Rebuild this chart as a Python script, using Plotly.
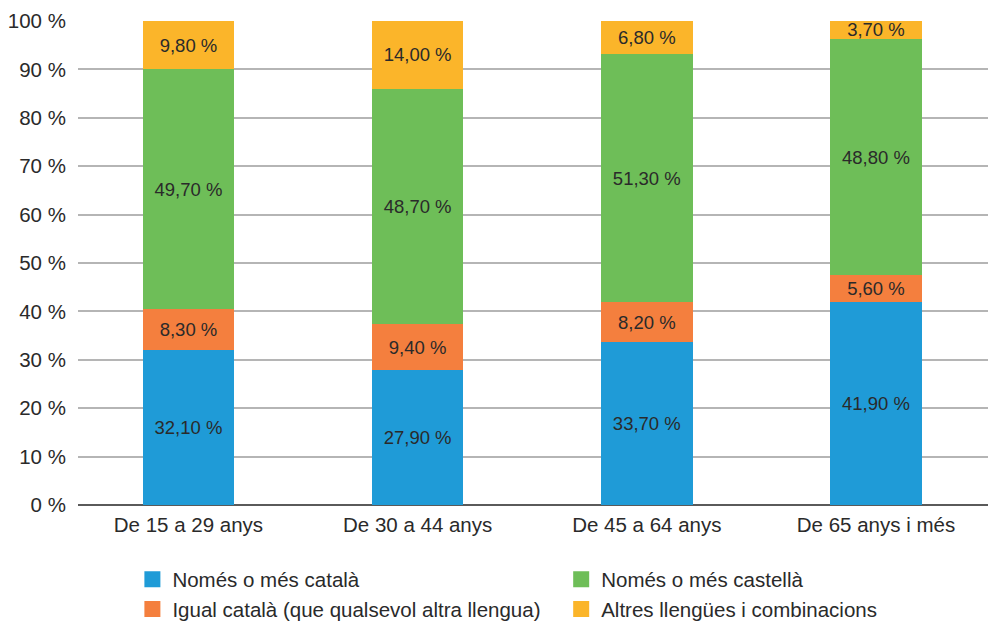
import plotly.graph_objects as go

# Age groups and language-use shares (%) per group
categories = ["De 15 a 29 anys", "De 30 a 44 anys", "De 45 a 64 anys", "De 65 anys i més"]

series_names = [
    "Només o més català",
    "Igual català (que qualsevol altra llengua)",
    "Només o més castellà",
    "Altres llengües i combinacions",
]
catala = [32.1, 27.9, 33.7, 41.9]
igual = [8.3, 9.4, 8.2, 5.6]
castella = [49.7, 48.7, 51.3, 48.8]
altres = [9.8, 14.0, 6.8, 3.7]

y_ticks = [0, 10, 20, 30, 40, 50, 60, 70, 80, 90, 100]
y_tick_text = [f"{v} %" for v in y_ticks]

colors = ["#1f9bd7", "#f47f3e", "#6ebe58", "#fbb52a"]
# left legend column: català / igual ; right column: castellà / altres
legend_ids = ["legend", "legend", "legend2", "legend2"]
FONT = "Liberation Sans, Arial, sans-serif"
TXT = "#2a2a2a"

fig = go.Figure()
for name, vals, col in zip(series_names, [catala, igual, castella, altres], colors):
    fig.add_trace(go.Bar(
        x=categories, y=vals, name=name,
        marker=dict(color=col, line=dict(width=0)),
        texttemplate="%{y:.2f} %",
        textposition="inside",
        insidetextanchor="middle",
        constraintext="none",
        textfont=dict(family=FONT, size=18.5, color=TXT),
        showlegend=False,
        hoverinfo="skip",
    ))

# Legend entries with larger square swatches (drawn on a hidden helper axis)
for name, col, lg in zip(series_names, colors, legend_ids):
    fig.add_trace(go.Scatter(
        x=[0], y=[0], mode="markers", name=name,
        marker=dict(symbol="square", size=16, color=col),
        xaxis="x2", yaxis="y2",
        legend=lg, showlegend=True, hoverinfo="skip",
    ))

legend_common = dict(
    orientation="v",
    xref="container", yref="container",
    xanchor="left", yanchor="top",
    traceorder="normal",
    font=dict(family=FONT, size=20.5, color=TXT),
    itemclick=False,
    itemdoubleclick=False,
    tracegroupgap=0,
    bgcolor="rgba(0,0,0,0)",
)

fig.update_layout(
    width=988, height=623,
    barmode="stack",
    bargap=0.6,
    separators=", ",
    paper_bgcolor="white",
    plot_bgcolor="white",
    margin=dict(l=78, r=0, t=21, b=118, autoexpand=False),
    font=dict(family=FONT, size=21, color=TXT),
    xaxis=dict(
        type="category",
        categoryorder="array",
        categoryarray=categories,
        range=[-0.482, 3.489],
        showgrid=False,
        showline=False,
        ticks="outside",
        ticklen=1,
        tickcolor="rgba(0,0,0,0)",
        tickfont=dict(size=20.5, color=TXT),
        fixedrange=True,
    ),
    yaxis=dict(
        range=[0, 100],
        tickmode="array",
        tickvals=y_ticks,
        ticktext=y_tick_text,
        showgrid=True,
        gridcolor="#b5b5b5",
        gridwidth=1.5,
        zeroline=True,
        zerolinecolor="#5a5a5a",
        zerolinewidth=2,
        showline=False,
        ticks="outside",
        ticklen=7,
        tickcolor="rgba(0,0,0,0)",
        tickfont=dict(size=20.5, color=TXT),
        fixedrange=True,
    ),
    xaxis2=dict(visible=False, overlaying="x", range=[1, 2], fixedrange=True),
    yaxis2=dict(visible=False, overlaying="y", range=[1, 2], fixedrange=True),
    legend=dict(legend_common, x=0.134, y=0.102),
    legend2=dict(legend_common, x=0.568, y=0.102),
)

fig.write_html("out.html")
